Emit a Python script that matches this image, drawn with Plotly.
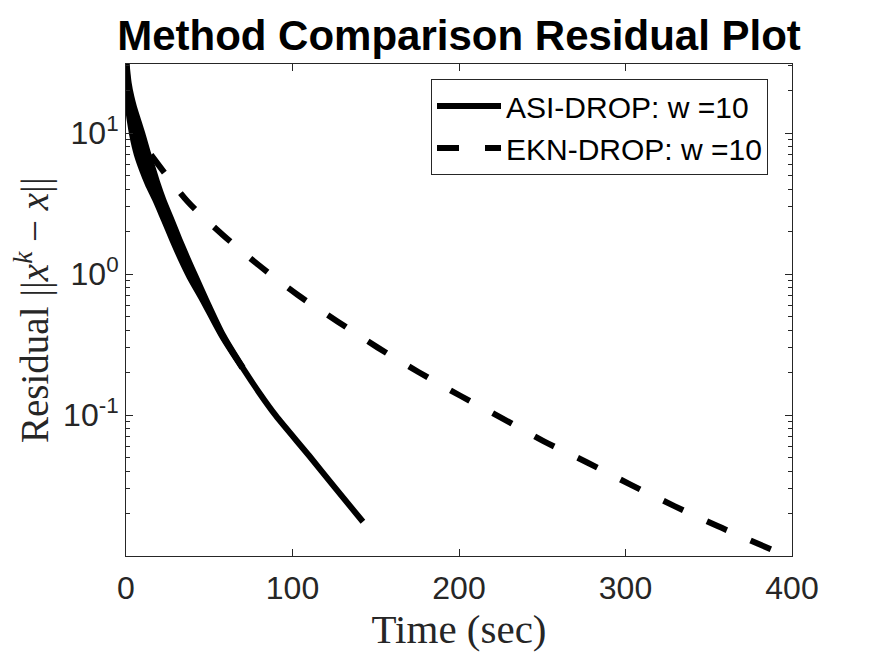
import plotly.graph_objects as go

# ---- data ----
# ASI-DROP: residual levels with the centre time and the fast/slow edges of the jittery band
asi_level = [34.2, 22.7, 18.1, 15.3, 12.0, 9.57, 7.02, 5.49, 4.37, 3.36, 2.43,
             1.75, 1.28, 0.957, 0.658, 0.365, 0.2165, 0.144, 0.0989, 0.0514, 0.031, 0.0175]
asi_time_center = [0, 1, 2, 3, 5, 7, 10, 13, 16, 20, 25,
                   30, 35, 40, 47, 58, 70, 80, 90, 110, 125, 142.3]
asi_time_fast = [0, 0.4, 0.8, 1.2, 2.4, 3.8, 6.5, 9.6, 13.0, 17.6, 22.7,
                 27.8, 32.9, 38.1, 45.9, 57.5, 69.8]
asi_time_slow = [0, 1.6, 3.2, 4.8, 7.6, 10.2, 13.5, 16.4, 19.0, 22.4, 27.3,
                 32.2, 37.1, 41.9, 48.1, 58.5, 70.2]

# EKN-DROP
ekn_time = [15, 37, 58, 80, 103, 127, 151, 175.6, 200.8, 226, 251, 277, 303, 329.4, 355.3, 388.6]
ekn_resid = [7.0, 3.27, 1.90, 1.15, 0.713, 0.461, 0.302, 0.202, 0.137, 0.0947,
             0.065, 0.0461, 0.0321, 0.0226, 0.0163, 0.011]

series_names = ["ASI-DROP: w =10", "EKN-DROP: w =10"]
x_ticks = [0, 100, 200, 300, 400]
y_ticks = [0.1, 1, 10]
y_tick_labels = ["10<sup>-1</sup>", "10<sup>0</sup>", "10<sup>1</sup>"]
y_minor = [m * 10 ** e for e in (-2, -1, 0, 1) for m in range(2, 10) if 0.01 < m * 10 ** e < 31]

AX = "#262626"
SANS = "Liberation Sans, Arial, sans-serif"
SERIF = "Liberation Serif, Times New Roman, serif"

# the page body adds an 8px offset, so the figure is 8px smaller and margins are shifted
W, H = 867, 648
PLOT_W, PLOT_H = W - 118 - 83, H - 56 - 100

fig = go.Figure()

n_band = len(asi_time_fast)
line_style = dict(color="black", width=6, shape="spline", smoothing=0.8)

# jitter band of ASI: fast edge, then slow edge filled to it
fig.add_trace(go.Scatter(
    x=asi_time_fast, y=asi_level[:n_band], mode="lines",
    line=line_style, showlegend=False, hoverinfo="skip"))
fig.add_trace(go.Scatter(
    x=asi_time_slow, y=asi_level[:n_band], mode="lines",
    fill="tonexty", fillcolor="black",
    line=line_style, showlegend=False, hoverinfo="skip"))

fig.add_trace(go.Scatter(
    x=asi_time_center, y=asi_level, mode="lines", name=series_names[0],
    line=line_style))

fig.add_trace(go.Scatter(
    x=ekn_time, y=ekn_resid, mode="lines", name=series_names[1],
    line=dict(color="black", width=6, dash="22px,26px", shape="spline", smoothing=0.8)))

fig.update_layout(
    width=W, height=H,
    margin=dict(l=118, r=83, t=56, b=100, autoexpand=False),
    paper_bgcolor="white", plot_bgcolor="white",
    title=dict(text="<b>Method Comparison Residual Plot</b>",
               font=dict(family=SANS, size=42, color="black"),
               x=0.5, xref="paper", xanchor="center",
               y=1 - 27 / H, yanchor="middle"),
    legend=dict(x=(768 - 126) / PLOT_W, xanchor="right",
                y=(556 - 79) / PLOT_H, yanchor="top",
                traceorder="normal",
                font=dict(family=SANS, size=30, color="black"),
                bordercolor=AX, borderwidth=1, bgcolor="white",
                itemwidth=64, tracegroupgap=0),
    showlegend=True,
    annotations=[dict(
        text="Residual ||<i>x</i><sup><i>k</i></sup> − <i>x</i>||",
        xref="paper", yref="paper", x=(32 - 126) / PLOT_W, y=0.5,
        xanchor="center", yanchor="middle", textangle=-90, showarrow=False,
        font=dict(family=SERIF, size=39, color=AX))],
)

fig.update_xaxes(
    range=[0, 400], tickvals=x_ticks, ticktext=[str(v) for v in x_ticks],
    ticks="inside", ticklen=7, tickwidth=1, tickcolor=AX,
    showline=True, linecolor=AX, linewidth=1, mirror="allticks",
    showgrid=False, zeroline=False, automargin=False,
    tickfont=dict(family=SANS, size=32, color=AX), ticklabelstandoff=4,
    title=dict(text="Time (sec)", font=dict(family=SERIF, size=41, color=AX), standoff=3),
)

fig.update_yaxes(
    type="log", range=[-2.0, 1.49],
    tickvals=y_ticks, ticktext=y_tick_labels,
    ticks="inside", ticklen=7, tickwidth=1, tickcolor=AX,
    minor=dict(tickvals=y_minor, ticks="inside", ticklen=4, tickwidth=1, tickcolor=AX),
    showline=True, linecolor=AX, linewidth=1, mirror="allticks",
    showgrid=False, zeroline=False, automargin=False,
    tickfont=dict(family=SANS, size=32, color=AX),
)

fig.write_html("out.html")
